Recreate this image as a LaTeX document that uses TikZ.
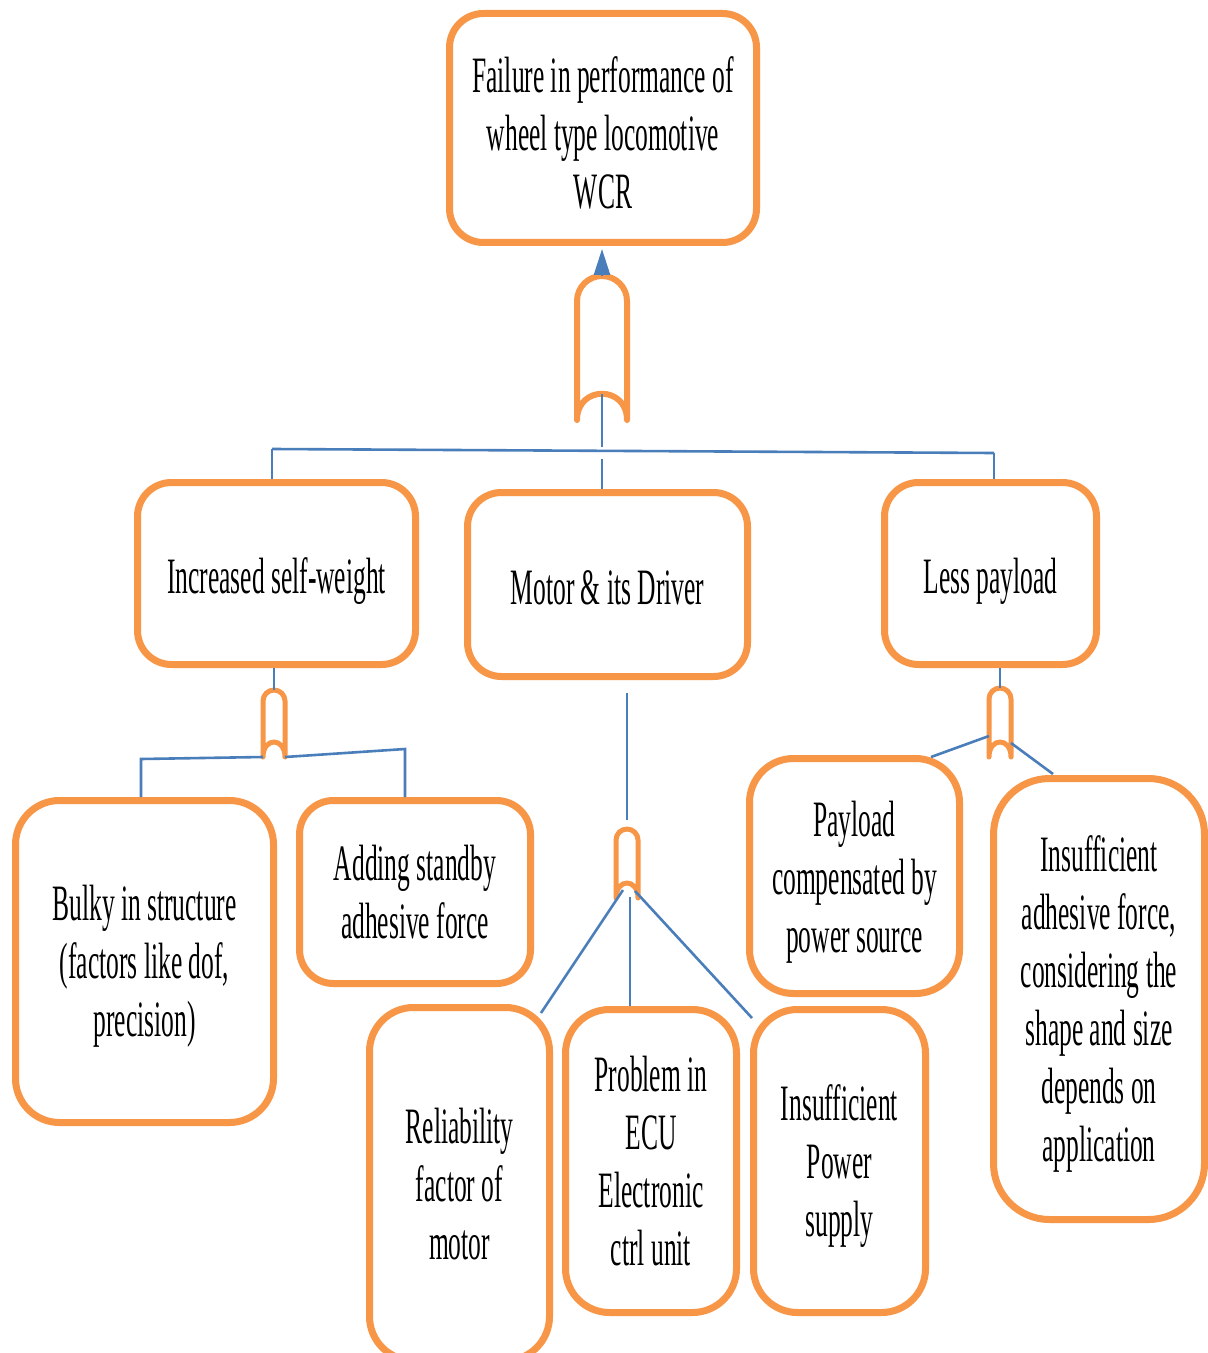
\documentclass[tikz,border=0pt]{standalone}
\usepackage{fontspec}
\newfontfamily\narrowfont{Liberation Serif}[FakeStretch=0.5]
\usetikzlibrary{arrows.meta,calc}
\definecolor{boxorange}{HTML}{F79646}
\definecolor{linkblue}{HTML}{4A7EBB}
\tikzset{
  fault/.style={draw=boxorange, line width=3.5pt, rounded corners=17pt, inner sep=0pt,
    align=center, font=\narrowfont\fontsize{25.5}{29}\selectfont},
  tall/.style={rounded corners=22pt},
  link/.style={draw=linkblue, line width=1.3pt},
  gate/.style={draw=boxorange, fill=white, line join=round},
  pics/orgate/.style n args={3}{code={
    \draw[gate] (-#1,#2) -- (-#1,#1)
      .. controls (-#1,0.448*#1) and (-0.552*#1,0) .. (0,0)
      .. controls (0.552*#1,0) and (#1,0.448*#1) .. (#1,#1)
      -- (#1,#2) .. controls (#1,#2-#3) and (-#1,#2-#3) .. (-#1,#2) -- cycle;
    \coordinate (-top) at (0,0);
    \coordinate (-bot) at (0,#2-0.75*#3);
    \coordinate (-l) at (-#1,#2);
    \coordinate (-r) at (#1,#2);
  }}
}
\begin{document}
\begin{tikzpicture}[x=0.5pt,y=-0.5pt]
\fill[white] (0,0) rectangle (1208,1353);
\clip (0,0) rectangle (1208,1353);

% top event
\node[fault, text height=80.4pt, minimum width=153.5pt, minimum height=114.5pt] (top) at (603,128)
  {Failure in performance of\\wheel type locomotive\\WCR};

% second level
\node[fault, text height=25.4pt, minimum width=139pt, minimum height=91pt] (inc) at (276.5,573.5) {Increased self-weight};
\node[fault, text height=20.4pt, minimum width=140pt, minimum height=92pt] (motor) at (607.5,584.5) {Motor \& its Driver};
\node[fault, text height=25.4pt, minimum width=106pt, minimum height=91pt] (less) at (990.5,573.5) {Less payload};

% basic events
\node[fault, tall, text height=80.4pt, minimum width=129pt, minimum height=161pt] (bulky) at (144.5,961.5)
  {Bulky in structure\\(factors like dof,\\precision)};
\node[fault, minimum width=115.5pt, minimum height=91.5pt] (adding) at (415,892)
  {Adding standby\\adhesive force};
\node[fault, tall, text height=82.4pt, minimum width=105pt, minimum height=117.5pt] (payload) at (854.5,876)
  {Payload\\compensated by\\power source};
\node[fault, tall, rounded corners=28pt, text height=168.4pt, minimum width=105.5pt, minimum height=220.5pt] (adhesive) at (1099,999)
  {Insufficient\\adhesive force,\\considering the\\shape and size\\depends on\\application};
\node[fault, tall, minimum width=90pt, minimum height=176.5pt] (rel) at (459.5,1184)
  {Reliability\\factor of\\motor};
\node[fault, tall, minimum width=85.5pt, minimum height=151.5pt] (ecu) at (651,1161)
  {Problem in\\ECU\\Electronic\\ctrl unit};
\node[fault, tall, text height=81.4pt, minimum width=86pt, minimum height=151.5pt] (power) at (839.5,1161)
  {Insufficient\\Power\\supply};

% gates
\pic[line width=3pt] (g1) at (602,276) {orgate={25}{144}{35}};
\pic[line width=2.5pt] (g2) at (274,690) {orgate={11}{67}{20}};
\pic[line width=2.5pt] (g3) at (1000,688) {orgate={11}{69}{20}};
\pic[line width=2.5pt] (g4) at (627,829) {orgate={11}{69}{20}};

% top gate
\draw[link, -{Triangle[length=13pt,width=8pt]}, shorten >=1.5pt] (g1-top) -- (g1-top |- top.south);
\coordinate (busL) at (272,449);
\coordinate (busR) at (994,453);
\draw[link] (busL) -- (busR);
\draw[link] (busL) -- (busL |- inc.north);
\draw[link] (busR) -- (busR |- less.north);
\draw[link] (g1-bot) -- ($(g1-bot |- busL)+(0,-2)$);
\draw[link] ($(g1-bot |- busL)+(0,10)$) -- (g1-bot |- motor.north);

% self-weight gate
\draw[link] (g2-top |- inc.south) -- (g2-top);
\coordinate (bulkyJ) at (141,759);
\coordinate (addJ) at (405,749);
\draw[link] (g2-l) -- (bulkyJ) -- (bulkyJ |- bulky.north);
\draw[link] (g2-r) -- (addJ) -- (addJ |- adding.north);

% payload gate
\draw[link] (g3-top |- less.south) -- (g3-top);
\coordinate (payJ) at (931,757);
\coordinate (adhJ) at (1053,774);
\draw[link] ($(g3-l)+(0,-21)$) -- (payJ);
\draw[link] ($(g3-r)+(0,-14)$) -- (adhJ);

% motor gate
\draw[link] ($(g4-top |- motor.south)+(0,13)$) -- ($(g4-top)+(0,-9)$);
\coordinate (relJ) at (541,1013);
\coordinate (ecuJ) at ($(g4-bot)+(3,14)$);
\coordinate (pwrJ) at (752,1018);
\draw[link] ($(g4-bot)+(-4,7)$) -- (relJ);
\draw[link] (ecuJ) -- (ecuJ |- ecu.north);
\draw[link] ($(g4-bot)+(8,8)$) -- (pwrJ);
\end{tikzpicture}
\end{document}
